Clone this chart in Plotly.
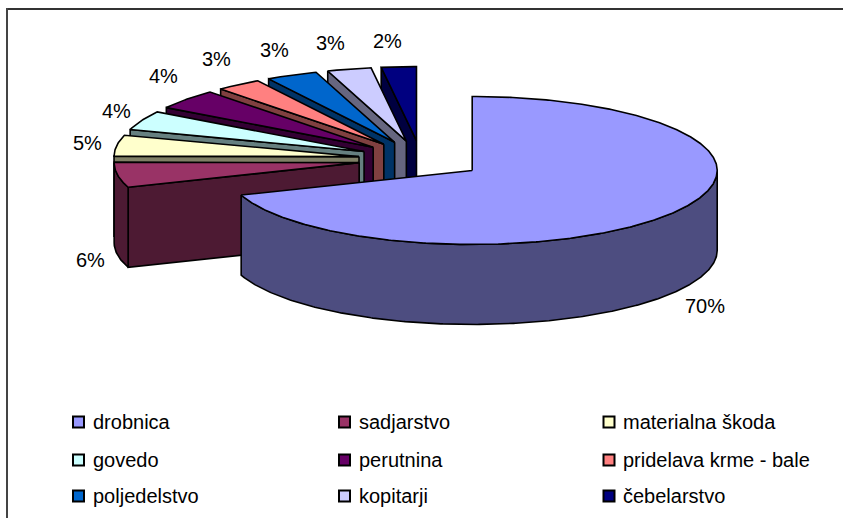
#!/usr/bin/env python3
import numpy as np
import plotly.graph_objects as go

categories = ['drobnica', 'sadjarstvo', 'materialna škoda', 'govedo', 'perutnina',
              'pridelava krme - bale', 'poljedelstvo', 'kopitarji', 'čebelarstvo']
# labels show rounded percents, the slice angles say a bit more
values = [69.6, 5.5, 4.7, 4.2, 4.4, 3.0, 3.4, 2.9, 2.3]
top_colors = ['#9999FF', '#993366', '#FFFFCC', '#CCFFFF', '#660066',
              '#FF8080', '#0066CC', '#CCCCFF', '#000080']
side_colors = ['#4D4D80', '#4D1A33', '#808066', '#668080', '#330033',
               '#804040', '#003366', '#666680', '#000040']

# fake 3d pie: pixel-like axes, everything projected onto an ellipse
CX, CY = 421, 159.5
RX, RY = 245, 74
DEPTH = 80
EXPLODE = 0.256

# where excel put the labels
label_x = [705, 90, 87, 116, 163, 216, 274, 330, 387]
label_y = [306, 260, 143, 111, 76, 59, 50, 43, 41]

legend_x = [78.5, 344.5, 609]
legend_y = [422, 460, 496]

fig = go.Figure()


def face(xs, ys, color):
    fig.add_trace(go.Scatter(x=xs, y=ys, mode='lines', fill='toself', fillcolor=color,
                             line=dict(color='black', width=1.6), hoverinfo='skip',
                             showlegend=False))


def arc(a, b):
    t = np.radians(np.linspace(a, b, max(int(abs(b - a) * 2), 2)))
    return RX * np.cos(t), -RY * np.sin(t)


# going clockwise from 12 o'clock, as excel does
hi = 90.0
slices = []
for i, v in enumerate(values):
    lo = hi - v * 3.6
    slices.append((i, lo, hi))
    hi = lo

# back slices first, the big one last
for i, lo, hi in slices[:0:-1] + [slices[0]]:
    mid = np.radians((lo + hi) / 2)
    ax = CX + EXPLODE * RX * np.cos(mid)
    ay = CY - EXPLODE * RY * np.sin(mid)

    # cut face on the left side of the slice
    if i != 0:
        ex = ax + RX * np.cos(np.radians(hi))
        ey = ay - RY * np.sin(np.radians(hi))
        face([ax, ex, ex, ax, ax], [ay, ey, ey + DEPTH, ay + DEPTH, ay], side_colors[i])

    # rim, only the part facing the viewer (below the ellipse axis)
    rim = None
    if i == 0:
        rim = (lo, 0.0)
    elif lo <= -180 < hi:
        rim = (-180.0, hi)
    if rim:
        rx, ry = arc(*rim)
        rx = ax + rx
        ry = ay + ry
        face(np.r_[rx, rx[::-1], rx[0]], np.r_[ry, ry[::-1] + DEPTH, ry[0]], side_colors[i])

    # top
    tx, ty = arc(lo, hi)
    face(np.r_[ax, ax + tx, ax], np.r_[ay, ay + ty, ay], top_colors[i])

for i, v in enumerate(values):
    fig.add_annotation(x=label_x[i], y=label_y[i], text=f'{round(v)}%', showarrow=False,
                       xanchor='center', yanchor='middle')

# legend drawn by hand to hold the uneven excel columns
for i, name in enumerate(categories):
    x = legend_x[i % 3]
    y = legend_y[i // 3]
    fig.add_trace(go.Scatter(x=[x], y=[y], mode='markers', showlegend=False, hoverinfo='skip',
                             marker=dict(symbol='square', size=11, color=top_colors[i],
                                         line=dict(color='black', width=2))))
    fig.add_annotation(x=x + 12, y=y, text=name, showarrow=False, xanchor='left', yanchor='middle')

# chart frame is cropped: only the top and left edges are in the picture
fig.add_shape(type='line', x0=7, y0=9, x1=843, y1=9, line=dict(color='#333333', width=2))
fig.add_shape(type='line', x0=7, y0=8, x1=7, y1=518, line=dict(color='#444444', width=2))

fig.update_xaxes(range=[0, 843], visible=False, fixedrange=True)
fig.update_yaxes(range=[518, 0], visible=False, fixedrange=True)
fig.update_layout(width=843, height=518, margin=dict(l=0, r=0, t=0, b=0),
                  paper_bgcolor='white', plot_bgcolor='white',
                  font=dict(family='Liberation Sans', size=20, color='black'))
# page default has an 8px body margin, which would push everything off
fig.write_html("out.html", config={'displayModeBar': False},
               post_script="document.body.style.margin='0';document.documentElement.style.overflow='hidden';")
